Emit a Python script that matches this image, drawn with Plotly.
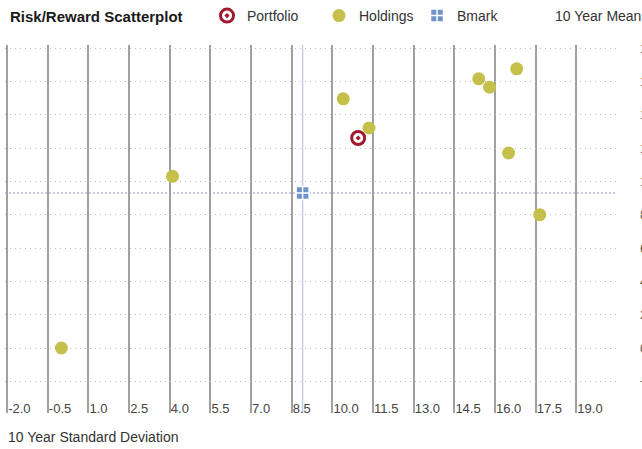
import plotly.graph_objects as go

# ---- data ----
holdings_sd = [0.0, 4.1, 10.4, 11.35, 15.4, 15.8, 16.8, 16.5, 17.65]
holdings_ret = [0.0, 10.3, 14.95, 13.2, 16.15, 15.65, 16.75, 11.7, 8.0]
portfolio_sd = [10.95]
portfolio_ret = [12.6]
bmark_sd = [8.9]
bmark_ret = [9.3]

x_ticks = [-2.0, -0.5, 1.0, 2.5, 4.0, 5.5, 7.0, 8.5, 10.0, 11.5, 13.0, 14.5, 16.0, 17.5, 19.0, 20.5]
x_tick_labels = ["-2.0", "-0.5", "1.0", "2.5", "4.0", "5.5", "7.0", "8.5", "10.0", "11.5",
                 "13.0", "14.5", "16.0", "17.5", "19.0", ""]
y_ticks = [-2, 0, 2, 4, 6, 8, 10, 12, 14, 16, 18]

FONT = "Liberation Sans, Arial, sans-serif"
RED = "#a01a2e"
OLIVE = "#c4c04a"
BLUE = "#6f95c8"

L, R, T, B = 5, 25, 45, 36
PW = 642 - L - R
PH = 449 - T - B


def px_x(p):
    return (p - L) / PW


def px_y(p):
    return (449 - B - p) / PH


fig = go.Figure()

fig.add_trace(go.Scatter(
    x=portfolio_sd, y=portfolio_ret, mode="markers", name="Portfolio", legend="legend",
    marker=dict(symbol="circle-dot", size=13, color="white",
                line=dict(color=RED, width=3)),
))
fig.add_trace(go.Scatter(
    x=holdings_sd, y=holdings_ret, mode="markers", name="Holdings", legend="legend2",
    marker=dict(symbol="circle", size=13, color=OLIVE, line=dict(width=0)),
))
fig.add_trace(go.Scatter(
    x=bmark_sd, y=bmark_ret, mode="markers", name="Bmark", legend="legend3",
    marker=dict(symbol="square-cross", size=13, color=BLUE,
                line=dict(color="white", width=1.5)),
))

# benchmark crosshair
fig.add_shape(type="line", xref="x", yref="paper", x0=bmark_sd[0], x1=bmark_sd[0],
              y0=0, y1=1, line=dict(color="#c3cde3", width=1.5), layer="below")
fig.add_shape(type="line", xref="paper", yref="y", x0=0, x1=1, y0=bmark_ret[0],
              y1=bmark_ret[0], line=dict(color="#8d96c8", width=1.2, dash="2px,2px"),
              layer="below")

fig.add_annotation(text="<b>Risk/Reward Scatterplot</b>", xref="paper", yref="paper",
                   x=px_x(8), y=px_y(16), xanchor="left", yanchor="middle",
                   showarrow=False, font=dict(family=FONT, size=15, color="#1a1a1a"))
fig.add_annotation(text="10 Year Mean Return", xref="paper", yref="paper",
                   x=px_x(553), y=px_y(16), xanchor="left", yanchor="middle",
                   showarrow=False, font=dict(family=FONT, size=14, color="#333333"))
fig.add_annotation(text="10 Year Standard Deviation", xref="paper", yref="paper",
                   x=px_x(6), y=px_y(437), xanchor="left", yanchor="middle",
                   showarrow=False, font=dict(family=FONT, size=14, color="#333333"))

leg_common = dict(orientation="h", yanchor="middle", xanchor="left", y=px_y(16),
                  font=dict(family=FONT, size=14, color="#333333"),
                  bgcolor="rgba(0,0,0,0)", borderwidth=0, itemclick=False)

fig.update_layout(
    width=642, height=449,
    margin=dict(l=L, r=R, t=T, b=B, autoexpand=False),
    paper_bgcolor="white", plot_bgcolor="white",
    font=dict(family=FONT, size=14, color="#333333"),
    showlegend=True,
    legend=dict(x=px_x(207), **leg_common),
    legend2=dict(x=px_x(319), **leg_common),
    legend3=dict(x=px_x(417), **leg_common),
    xaxis=dict(range=[-2.08, 20.5], tickvals=x_ticks, ticktext=x_tick_labels,
               showgrid=True, gridcolor="#a0a0a0", gridwidth=1.5,
               zeroline=False, showline=False, ticks="", automargin=False,
               ticklabelposition="inside right", ticklabelstandoff=-9, ticklabelshift=1,
               tickfont=dict(family=FONT, size=13, color="#444444")),
    yaxis=dict(range=[-3.9, 18.18], tickvals=y_ticks, tickformat=".1f",
               side="right", showgrid=True, gridcolor="#bdbdbd", gridwidth=1,
               griddash="1px,4px", zeroline=False, showline=False, ticks="",
               automargin=False, ticklabelstandoff=22,
               tickfont=dict(family=FONT, size=13, color="#555555")),
)

fig.write_html("out.html")
